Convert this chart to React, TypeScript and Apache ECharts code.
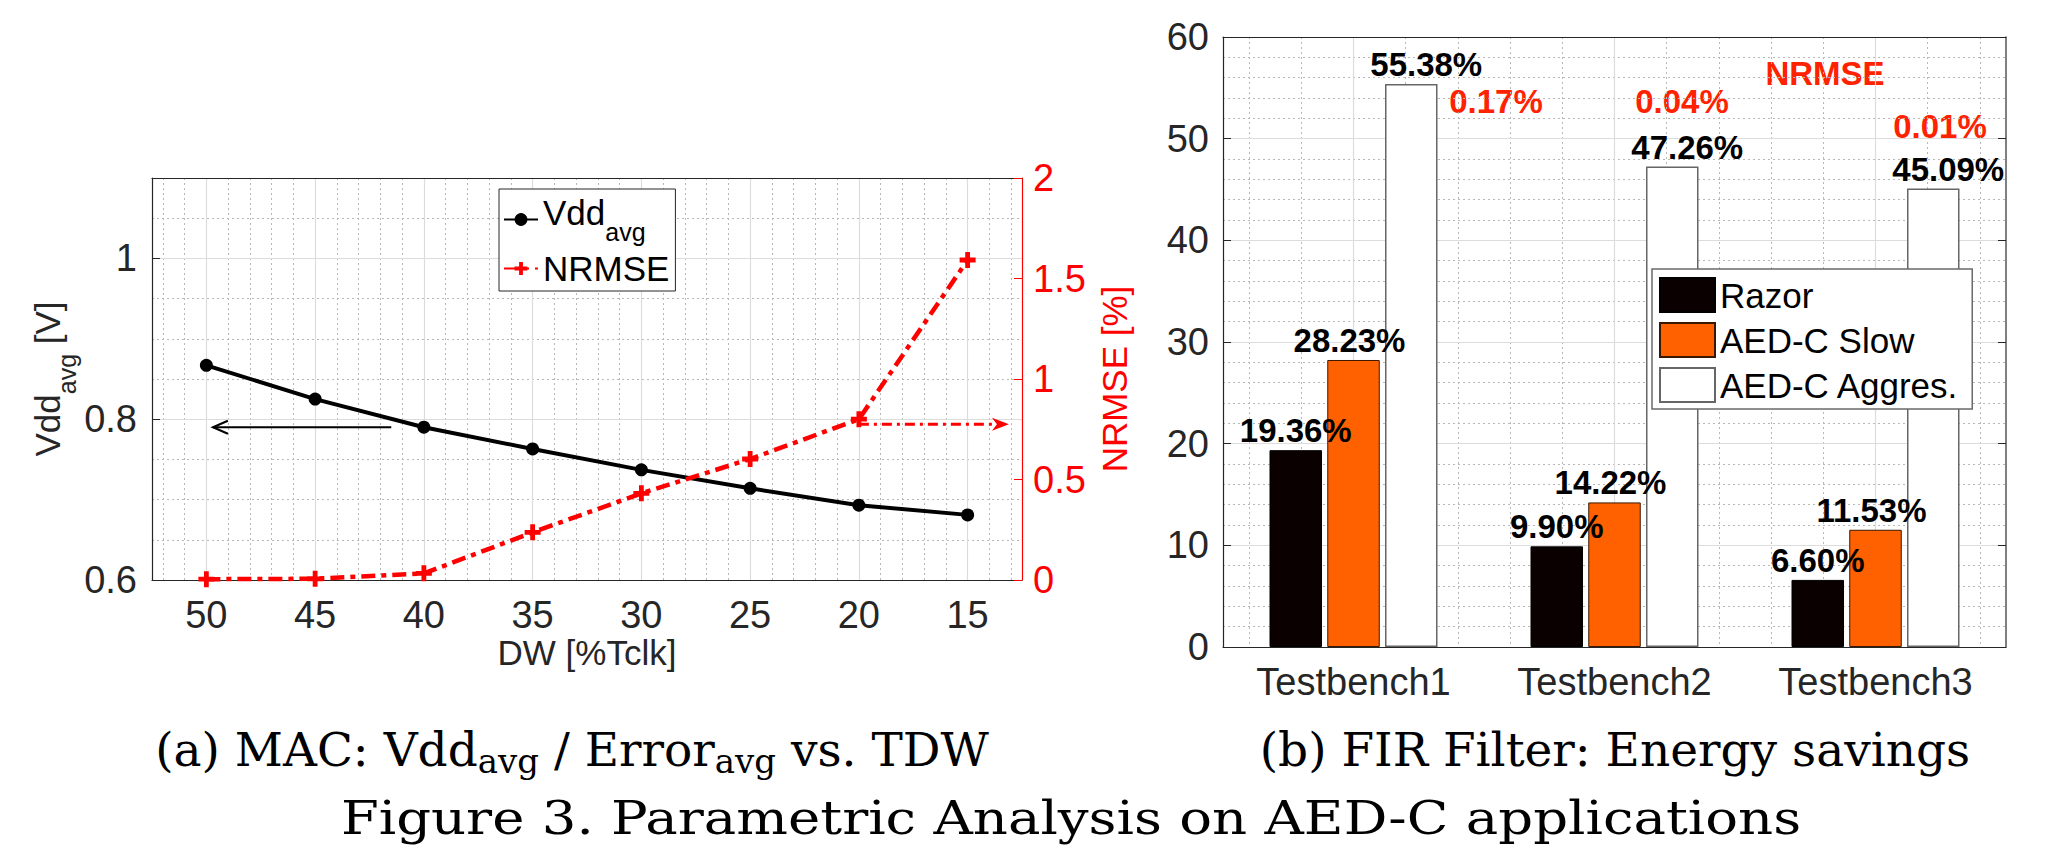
import React, { useEffect, useRef } from 'react';
import * as echarts from 'echarts';

// ---------------- data ----------------
const dwLabels = ['50', '45', '40', '35', '30', '25', '20', '15'];
const vddAvg = [0.867, 0.825, 0.79, 0.763, 0.737, 0.714, 0.693, 0.681];
const nrmse = [0.004, 0.006, 0.033, 0.237, 0.431, 0.602, 0.8, 1.592];
// annotation arrows: [fromDW, fromY, toDW, toY]
const vddArrow = [[41.5, 0.79, 49.7, 0.79]];
const nrmseArrow = [[20, 0.775, 13.1, 0.775]];

const benches = ['Testbench1', 'Testbench2', 'Testbench3'];
const razor = [19.36, 9.9, 6.6];
const aedSlow = [28.23, 14.22, 11.53];
const aedAggres = [55.38, 47.26, 45.09];
const nrmseAggres = ['0.17%', '0.04%', '0.01%'];

// ---------------- styles / layout ----------------
const SANS = '"Liberation Sans", Arial, Helvetica, sans-serif';
const SERIF = '"DejaVu Serif", "Liberation Serif", serif';
const AX = '#262626';
const MAJ = '#dcdcdc';
const MIN = '#b8b8b8';
const RED = '#ff0000';
const ANN = '#ff2200';
const T = 'rgba(0,0,0,0)';

const nrmseLabelPos = [
  [1496, 101.5],
  [1682, 101.5],
  [1940, 126.5],
];

const hidden = {
  show: true,
  axisLine: { show: false, onZero: false },
  axisTick: { show: false },
  axisLabel: { show: false },
  z: 0,
};

const arrowRender =
  (color: string, width: number, dash: number[] | null, filled: boolean) =>
  (_params: any, api: any) => {
    const p1 = api.coord([api.value(0), api.value(1)]);
    const p2 = api.coord([api.value(2), api.value(3)]);
    const ang = Math.atan2(p2[1] - p1[1], p2[0] - p1[0]);
    const c = Math.cos(ang);
    const s = Math.sin(ang);
    const len = filled ? 17 : 15;
    const half = 6.5;
    const bx = p2[0] - len * c;
    const by = p2[1] - len * s;
    const a1 = [bx + half * s, by - half * c];
    const a2 = [bx - half * s, by + half * c];
    const children: any[] = [];
    const endX = filled ? bx + 4 * c : p2[0];
    const endY = filled ? by + 4 * s : p2[1];
    children.push({
      type: 'line',
      shape: { x1: p1[0], y1: p1[1], x2: endX, y2: endY },
      style: { stroke: color, lineWidth: width, lineDash: dash || null, fill: 'none' },
    });
    if (filled) {
      children.push({
        type: 'polygon',
        shape: { points: [p2, a1, [bx + 5 * c, by + 5 * s], a2] },
        style: { fill: color, stroke: 'none' },
      });
    } else {
      children.push({
        type: 'polyline',
        shape: { points: [a1, p2, a2] },
        style: { stroke: color, lineWidth: width, fill: 'none' },
      });
    }
    return { type: 'group', children };
  };

const barLabel = (dx: number) => ({
  show: true,
  position: 'top',
  distance: 3,
  offset: [dx, 0],
  formatter: (p: any) => Number(p.value).toFixed(2) + '%',
  fontFamily: SANS,
  fontWeight: 'bold',
  fontSize: 33,
  color: '#000',
});

function buildOption(): any {
  return {
    animation: false,
    backgroundColor: '#ffffff',
    grid: [
      { left: 152, top: 178, width: 870, height: 402 },
      { left: 1223, top: 37, width: 783, height: 610 },
    ],
    legend: [
      {
        data: ['Vdd_avg', 'NRMSE'],
        orient: 'vertical',
        left: 499,
        top: 189,
        itemWidth: 34,
        itemHeight: 16,
        itemGap: 7,
        padding: [6, 6, 5, 4],
        backgroundColor: '#ffffff',
        borderColor: AX,
        borderWidth: 1,
        selectedMode: false,
        formatter: (n: string) => (n === 'Vdd_avg' ? '{m|Vdd}{s|avg}' : '{n|NRMSE}'),
        textStyle: {
          fontFamily: SANS,
          fontSize: 35,
          color: '#000',
          rich: {
            m: { fontFamily: SANS, fontSize: 35, color: '#000', verticalAlign: 'bottom', padding: [0, 0, 14, 0] },
            s: { fontFamily: SANS, fontSize: 25, color: '#000', verticalAlign: 'bottom' },
            n: { fontFamily: SANS, fontSize: 35, color: '#000' },
          },
        },
      },
      {
        data: ['Razor', 'AED-C Slow', 'AED-C Aggres.'],
        orient: 'vertical',
        left: 1652,
        top: 269,
        itemWidth: 55,
        itemHeight: 34,
        itemGap: 9,
        icon: 'rect',
        padding: [8, 13, 6, 7],
        backgroundColor: '#ffffff',
        borderColor: '#6a6a6a',
        borderWidth: 1.5,
        selectedMode: false,
        textStyle: { fontFamily: SANS, fontSize: 35, color: '#000' },
      },
    ],
    xAxis: [
      {
        type: 'category',
        gridIndex: 0,
        data: dwLabels,
        position: 'bottom',
        boundaryGap: true,
        axisLine: { onZero: false, lineStyle: { color: AX, width: 1.2 } },
        axisTick: { inside: true, alignWithLabel: true, length: 8, lineStyle: { color: AX } },
        axisLabel: { fontFamily: SANS, fontSize: 38, color: AX, margin: 16, interval: 0 },
        splitLine: { show: false },
        name: 'DW [%Tclk]',
        nameLocation: 'middle',
        nameGap: 47,
        nameTextStyle: { fontFamily: SANS, fontSize: 35, color: AX },
        z: 3,
      },
      {
        type: 'category',
        gridIndex: 0,
        data: dwLabels,
        position: 'top',
        boundaryGap: true,
        axisLine: { onZero: false, lineStyle: { color: AX, width: 1.2 } },
        axisTick: { inside: true, alignWithLabel: true, length: 8, lineStyle: { color: AX } },
        axisLabel: { show: false },
        splitLine: { show: false },
        z: 3,
      },
      {
        ...hidden,
        type: 'value',
        gridIndex: 0,
        min: 12.5,
        max: 52.5,
        interval: 0.5,
        inverse: true,
        splitLine: { show: true, lineStyle: { color: [T, MIN], type: [2, 3], width: 1 } },
      },
      {
        ...hidden,
        type: 'value',
        gridIndex: 0,
        min: 12.5,
        max: 52.5,
        interval: 2.5,
        inverse: true,
        splitLine: { show: true, lineStyle: { color: [T, MAJ], width: 1.2 } },
      },
      {
        type: 'category',
        gridIndex: 1,
        data: benches,
        position: 'bottom',
        boundaryGap: true,
        axisLine: { onZero: false, lineStyle: { color: AX, width: 1.2 } },
        axisTick: { inside: true, alignWithLabel: true, length: 8, lineStyle: { color: AX } },
        axisLabel: { fontFamily: SANS, fontSize: 38, color: AX, margin: 16, interval: 0 },
        splitLine: { show: false },
        z: 3,
      },
      {
        type: 'category',
        gridIndex: 1,
        data: benches,
        position: 'top',
        boundaryGap: true,
        axisLine: { onZero: false, lineStyle: { color: AX, width: 1.2 } },
        axisTick: { inside: true, alignWithLabel: true, length: 8, lineStyle: { color: AX } },
        axisLabel: { show: false },
        splitLine: { show: false },
        z: 3,
      },
      {
        ...hidden,
        type: 'value',
        gridIndex: 1,
        min: 0.5,
        max: 3.5,
        interval: 0.1,
        splitLine: { show: true, lineStyle: { color: [T, MIN], type: [2, 3], width: 1 } },
      },
      {
        ...hidden,
        type: 'value',
        gridIndex: 1,
        min: 0.5,
        max: 3.5,
        interval: 0.5,
        splitLine: { show: true, lineStyle: { color: [T, MAJ], width: 1.2 } },
      },
    ],
    yAxis: [
      {
        type: 'value',
        gridIndex: 0,
        position: 'left',
        min: 0.6,
        max: 1.1,
        interval: 0.2,
        axisLine: { show: true, onZero: false, lineStyle: { color: AX, width: 1.2 } },
        axisTick: { show: true, inside: true, length: 8, lineStyle: { color: AX } },
        axisLabel: {
          fontFamily: SANS,
          fontSize: 38,
          color: AX,
          margin: 15,
          formatter: (v: number) => {
            const k = Math.round(v * 5);
            return Math.abs(v * 5 - k) < 1e-6 ? String(Math.round(v * 10) / 10) : '';
          },
        },
        splitLine: { show: true, lineStyle: { color: MAJ, width: 1.2 } },
        name: '{m|Vdd}{s|avg}{m| [V]}',
        nameLocation: 'middle',
        nameRotate: 90,
        nameGap: 73,
        nameTextStyle: {
          fontFamily: SANS,
          fontSize: 35,
          color: AX,
          rich: {
            m: { fontFamily: SANS, fontSize: 35, color: AX, verticalAlign: 'bottom', padding: [0, 0, 14, 0] },
            s: { fontFamily: SANS, fontSize: 25, color: AX, verticalAlign: 'bottom' },
          },
        },
        z: 1,
      },
      {
        type: 'value',
        gridIndex: 0,
        position: 'right',
        min: 0,
        max: 2,
        interval: 0.5,
        axisLine: { show: true, onZero: false, lineStyle: { color: RED, width: 1.2 } },
        axisTick: { show: true, inside: true, length: 8, lineStyle: { color: RED } },
        axisLabel: { fontFamily: SANS, fontSize: 38, color: RED, margin: 11 },
        splitLine: { show: false },
        name: 'NRMSE [%]',
        nameLocation: 'middle',
        nameRotate: 90,
        nameGap: 75,
        nameTextStyle: { fontFamily: SANS, fontSize: 35, color: RED },
        z: 3,
      },
      {
        ...hidden,
        type: 'value',
        gridIndex: 0,
        min: 0.6,
        max: 1.1,
        interval: 0.05,
        splitLine: { show: true, lineStyle: { color: MIN, type: [2, 3], width: 1 } },
      },
      {
        type: 'value',
        gridIndex: 1,
        position: 'left',
        min: 0,
        max: 60,
        interval: 10,
        axisLine: { show: true, onZero: false, lineStyle: { color: AX, width: 1.2 } },
        axisTick: { show: true, inside: true, length: 8, lineStyle: { color: AX } },
        axisLabel: { fontFamily: SANS, fontSize: 38, color: AX, margin: 14 },
        splitLine: { show: true, lineStyle: { color: MAJ, width: 1.2 } },
        z: 1,
      },
      {
        type: 'value',
        gridIndex: 1,
        position: 'right',
        min: 0,
        max: 60,
        interval: 10,
        axisLine: { show: true, onZero: false, lineStyle: { color: '#555555', width: 1.5 } },
        axisTick: { show: true, inside: true, length: 8, lineStyle: { color: AX } },
        axisLabel: { show: false },
        splitLine: { show: false },
        z: 3,
      },
      {
        ...hidden,
        type: 'value',
        gridIndex: 1,
        min: 0,
        max: 60,
        interval: 2,
        splitLine: { show: true, lineStyle: { color: MIN, type: [2, 3], width: 1 } },
      },
    ],
    series: [
      {
        name: 'Vdd_avg',
        type: 'line',
        xAxisIndex: 0,
        yAxisIndex: 0,
        data: vddAvg,
        symbol: 'circle',
        symbolSize: 13,
        lineStyle: { color: '#000', width: 4 },
        itemStyle: { color: '#000' },
        z: 4,
      },
      {
        name: 'NRMSE',
        type: 'line',
        xAxisIndex: 0,
        yAxisIndex: 1,
        data: nrmse,
        symbol: 'path://M3.5,0H6.5V3.5H10V6.5H6.5V10H3.5V6.5H0V3.5H3.5Z',
        symbolSize: 16,
        lineStyle: { color: RED, width: 4.5, type: [14, 6, 5, 6] },
        itemStyle: { color: RED },
        z: 4,
      },
      {
        name: 'vddArrow',
        type: 'custom',
        xAxisIndex: 2,
        yAxisIndex: 0,
        data: vddArrow,
        encode: { x: [0, 2], y: [1, 3] },
        renderItem: arrowRender('#000', 2, null, false),
        silent: true,
        clip: false,
        z: 4,
      },
      {
        name: 'nrmseArrow',
        type: 'custom',
        xAxisIndex: 2,
        yAxisIndex: 1,
        data: nrmseArrow,
        encode: { x: [0, 2], y: [1, 3] },
        renderItem: arrowRender(RED, 3, [10, 5, 3, 5], true),
        silent: true,
        clip: false,
        z: 4,
      },
      {
        name: 'Razor',
        type: 'bar',
        xAxisIndex: 4,
        yAxisIndex: 3,
        data: razor,
        barWidth: 52.5,
        barGap: '10%',
        itemStyle: { color: '#0b0000', borderColor: '#000000', borderWidth: 1 },
        label: barLabel(0),
      },
      {
        name: 'AED-C Slow',
        type: 'bar',
        xAxisIndex: 4,
        yAxisIndex: 3,
        data: aedSlow,
        barWidth: 52.5,
        barGap: '10%',
        itemStyle: { color: '#ff6000', borderColor: '#3a1800', borderWidth: 1 },
        label: barLabel(-4),
      },
      {
        name: 'AED-C Aggres.',
        type: 'bar',
        xAxisIndex: 4,
        yAxisIndex: 3,
        data: aedAggres,
        barWidth: 52.5,
        barGap: '10%',
        itemStyle: { color: '#ffffff', borderColor: '#666666', borderWidth: 1.5 },
        label: barLabel(15),
      },
    ],
    graphic: {
      elements: [
        {
          type: 'text',
          x: 1825,
          y: 73.5,
          style: {
            text: 'NRMSE',
            fontFamily: SANS,
            fontSize: 33,
            fontWeight: 'bold',
            fill: ANN,
            align: 'center',
            verticalAlign: 'middle',
          },
        },
        ...nrmseAggres.map((t, i) => ({
          type: 'text',
          x: nrmseLabelPos[i][0],
          y: nrmseLabelPos[i][1],
          style: {
            text: t,
            fontFamily: SANS,
            fontSize: 33,
            fontWeight: 'bold',
            fill: ANN,
            align: 'center',
            verticalAlign: 'middle',
          },
        })),
        {
          type: 'text',
          x: 572,
          y: 778,
          style: {
            text: '{m|(a) MAC: Vdd}{s|avg}{m| / Error}{s|avg}{m| vs. TDW}',
            align: 'center',
            verticalAlign: 'bottom',
            rich: {
              m: { fontFamily: SERIF, fontSize: 47, fill: '#000', verticalAlign: 'bottom', padding: [0, 0, 5, 0] },
              s: { fontFamily: SERIF, fontSize: 34, fill: '#000', verticalAlign: 'bottom' },
            },
          },
        },
        {
          type: 'text',
          x: 1615,
          y: 778,
          style: {
            text: '{m|(b) FIR Filter: Energy savings}',
            align: 'center',
            verticalAlign: 'bottom',
            rich: {
              m: { fontFamily: SERIF, fontSize: 47, fill: '#000', verticalAlign: 'bottom', padding: [0, 0, 5, 0] },
            },
          },
        },
        {
          type: 'text',
          x: 1071,
          y: 818,
          scaleX: 1.16,
          style: {
            text: 'Figure 3. Parametric Analysis on AED-C applications',
            fontFamily: SERIF,
            fontSize: 47,
            fill: '#000',
            align: 'center',
            verticalAlign: 'middle',
          },
        },
      ],
    },
  };
}

export default function App() {
  const ref = useRef<HTMLDivElement>(null);
  useEffect(() => {
    document.body.style.margin = '0';
    if (!ref.current) return;
    const chart = echarts.init(ref.current, null, { renderer: 'svg', width: 2048, height: 860 });
    chart.setOption(buildOption());
    return () => {
      chart.dispose();
    };
  }, []);
  return <div ref={ref} style={{ width: 2048, height: 860, background: '#ffffff' }} />;
}
